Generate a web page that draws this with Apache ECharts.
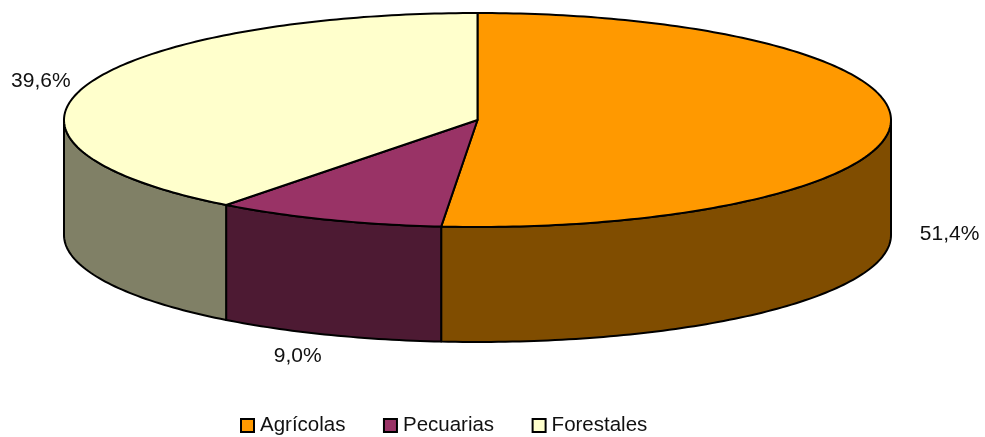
<!DOCTYPE html>
<html>
<head>
<meta charset="utf-8">
<style>
  html, body { margin: 0; padding: 0; background: #fff; }
  #chart { width: 985px; height: 437px; }
</style>
<script src="https://cdn.jsdelivr.net/npm/echarts@6/dist/echarts.min.js"></script>
</head>
<body>
<div id="chart"></div>
<script>
const categories = ["Agrícolas", "Pecuarias", "Forestales"];
const shares = [51.4, 9.0, 39.6];
const topColors = ["#FF9900", "#993366", "#FFFFCC"];
const sideColors = ["#804D00", "#4D1A33", "#808066"];
// label offset from the rim point at the middle of each slice
const labelOffsets = [[59, 109], [-30, 136], [-45, -4]];

const CX = 477.5, CY = 120, RX = 413.5, RY = 107, DEPTH = 115;
const FONT = '21px "Liberation Sans", Arial, sans-serif';
const total = shares.reduce((a, b) => a + b, 0);

function rim(deg, drop) {
  const t = (deg * Math.PI) / 180;
  return [CX + RX * Math.sin(t), CY - RY * Math.cos(t) + (drop || 0)];
}

function arc(from, to, drop) {
  const pts = [];
  const n = Math.max(2, Math.ceil(Math.abs(to - from)));
  for (let i = 0; i <= n; i++) pts.push(rim(from + ((to - from) * i) / n, drop));
  return pts;
}

const lineStyle = { stroke: "#000", lineWidth: 2, lineJoin: "round" };

function makeRender(index) {
  return function (params, api) {
    const before = shares.slice(0, index).reduce((a, b) => a + b, 0);
    const start = (before / total) * 360;
    const end = start + (api.value(0) / total) * 360;
    const children = [];

    // only the front half of the ellipse shows a wall
    const wallFrom = Math.max(start, 90);
    const wallTo = Math.min(end, 270);
    if (wallTo > wallFrom) {
      children.push({
        type: "polygon",
        shape: { points: arc(wallFrom, wallTo, 0).concat(arc(wallTo, wallFrom, DEPTH)) },
        style: Object.assign({ fill: sideColors[index] }, lineStyle),
      });
    }

    children.push({
      type: "polygon",
      shape: { points: [[CX, CY]].concat(arc(start, end, 0)) },
      style: Object.assign({ fill: topColors[index] }, lineStyle),
    });

    const anchor = rim((start + end) / 2, 0);
    children.push({
      type: "text",
      style: {
        text: api.value(0).toFixed(1).replace(".", ",") + "%",
        x: anchor[0] + labelOffsets[index][0],
        y: anchor[1] + labelOffsets[index][1],
        align: "center",
        verticalAlign: "middle",
        font: FONT,
        fill: "#111",
      },
    });

    return { type: "group", children };
  };
}

const chart = echarts.init(document.getElementById("chart"), null, { renderer: "canvas" });

chart.setOption({
  animation: false,
  backgroundColor: "#fff",
  legend: {
    data: categories,
    icon: "rect",
    left: 240,
    top: 415,
    itemWidth: 13,
    itemHeight: 13,
    itemGap: 37.5,
    padding: 0,
    selectedMode: false,
    textStyle: {
      fontFamily: '"Liberation Sans", Arial, sans-serif',
      fontSize: 20.5,
      color: "#111",
      padding: [0, 0, 0, 1],
    },
  },
  series: categories.map((name, i) => ({
    type: "custom",
    name,
    coordinateSystem: "none",
    silent: true,
    itemStyle: { color: topColors[i], borderColor: "#000", borderWidth: 2 },
    renderItem: makeRender(i),
    data: [[shares[i]]],
  })),
});
</script>
</body>
</html>
